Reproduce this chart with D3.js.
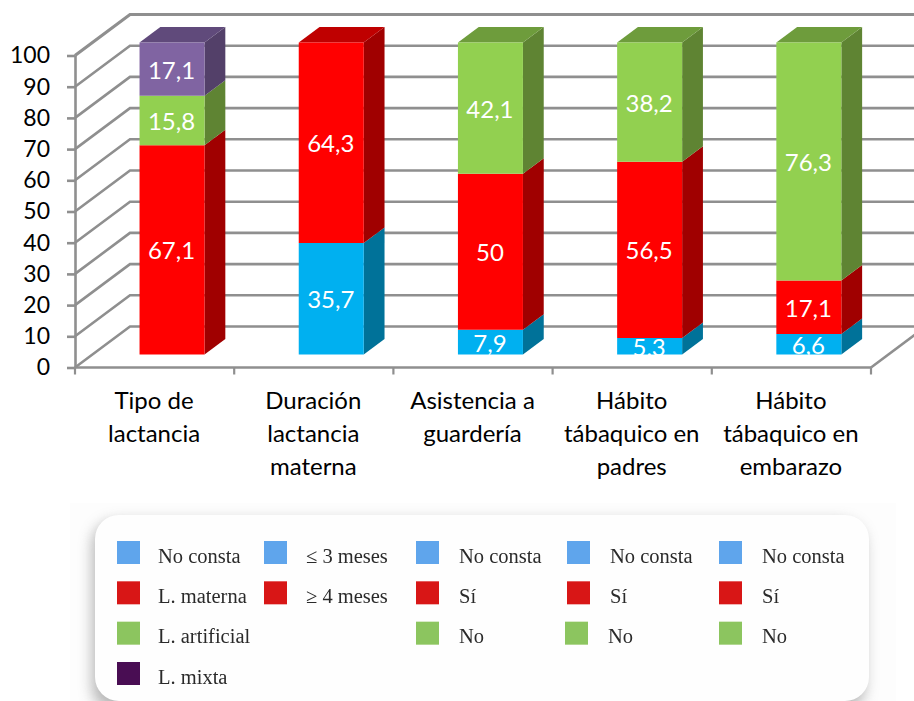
<!DOCTYPE html>
<html><head><meta charset="utf-8">
<script src="https://cdn.jsdelivr.net/npm/d3@7/dist/d3.min.js"></script>
<style>
html,body{margin:0;padding:0;background:#fff;overflow:hidden}
svg{display:block}
text{font-family:Lato,"Open Sans",sans-serif}
</style></head><body>
<svg id="c" width="914" height="701"></svg>
<script>
// ---- data ----
const categories = [
  ["Tipo de","lactancia"],
  ["Duración","lactancia","materna"],
  ["Asistencia a","guardería"],
  ["Hábito","tábaquico en","padres"],
  ["Hábito","tábaquico en","embarazo"]
];
const blueValues   = [0, 35.7, 7.9, 5.3, 6.6];
const redValues    = [67.1, 64.3, 50, 56.5, 17.1];
const greenValues  = [15.8, 0, 42.1, 38.2, 76.3];
const purpleValues = [17.1, 0, 0, 0, 0];
const yTicks = [0,10,20,30,40,50,60,70,80,90,100];
const legendColumns = [
  ["No consta","L. materna","L. artificial","L. mixta"],
  ["≤ 3 meses","≥ 4 meses"],
  ["No consta","Sí","No"],
  ["No consta","Sí","No"],
  ["No consta","Sí","No"]
];
const legendSwatches = ["#5fa5ec","#d81515","#8cc55e","#4a0a52"];

// ---- styling ----
const seriesKeys = ["blue","red","green","purple"];
const faces = {
  blue:  {front:"#00b0f0", side:"#007299", top:"#0086b6"},
  red:   {front:"#ff0000", side:"#a00000", top:"#bf0000"},
  green: {front:"#92d050", side:"#5f8433", top:"#6e9c3c"},
  purple:{front:"#8064a2", side:"#534069", top:"#604a7b"}
};
const grid = "#8f8f8f";
const svg = d3.select("#c");
const names = categories.map((_,i)=>i);

const wallDX = 55, wallDY = 41, x0 = 75, x1 = 871;
const y = d3.scaleLinear().domain([0,100]).range([367.5,55.5]);
const xBand = d3.scaleBand().domain(names).range([x0,x1]);
const barBand = d3.scaleBand().domain(names).range([x0,x1])
  .paddingInner(1-65/159.2).paddingOuter((1-65/159.2)/2);
const zNear = 13/41, zFar = 28.5/41;
const px = (x,z)=>x+wallDX*z, py = (v,z)=>y(v)-wallDY*z;
const pt = (x,v,z)=>[px(x,z),py(v,z)];
const line = d3.line();

// ---- walls ----
const wall = svg.append("g").attr("fill","none").attr("stroke",grid).attr("stroke-width",2.6);
wall.selectAll("path.h").data(yTicks).join("path").attr("class","h")
  .attr("d",v=>line([pt(x0,v,0),pt(x0,v,1),pt(x1,v,1)]))
  .attr("stroke-width",v=>v===100?3.2:2.6);
wall.append("path").attr("d",line([pt(x1,0,0),pt(x1,0,1)]));

// ---- axes ----
const axisY = svg.append("g").attr("transform",`translate(${x0},0)`)
  .call(d3.axisLeft(y).tickValues(yTicks).tickSize(8).tickPadding(17).tickSizeOuter(0));
axisY.selectAll("path,line").attr("stroke",grid).attr("stroke-width",2.6);
axisY.selectAll("text").attr("fill","#000").style("font-size","23px").style("font-family","Lato,sans-serif");

svg.append("path").attr("d",line([[x0,y(0)],[x1,y(0)]])).attr("stroke",grid).attr("stroke-width",2.6);
svg.selectAll("line.xt").data([...names,names.length]).join("line").attr("class","xt")
  .attr("x1",i=>x0+i*xBand.step()).attr("x2",i=>x0+i*xBand.step())
  .attr("y1",y(0)).attr("y2",y(0)+7).attr("stroke",grid).attr("stroke-width",2.2);

const catG = svg.selectAll("text.cat").data(categories).join("text").attr("class","cat")
  .attr("text-anchor","middle").attr("fill","#000").style("font-size","24px")
  .attr("transform",(d,i)=>`translate(${xBand(i)+xBand.bandwidth()/2-0.5},409)`);
catG.selectAll("tspan").data(d=>d).join("tspan")
  .attr("x",0).attr("y",(d,i)=>i*33).text(d=>d);

// ---- bars ----
const rows = names.map(i=>({blue:blueValues[i],red:redValues[i],green:greenValues[i],purple:purpleValues[i]}));
const stacked = d3.stack().keys(seriesKeys)(rows);
const bars = svg.append("g");
stacked.forEach(layer=>{
  const c = faces[layer.key];
  const g = bars.append("g");
  layer.forEach((s,i)=>{
    if(s[1]-s[0]<=0) return;
    const a = barBand(i), b = a+barBand.bandwidth();
    g.append("path").attr("fill",c.side)
      .attr("d",line([pt(b,s[0],zNear),pt(b,s[0],zFar),pt(b,s[1],zFar),pt(b,s[1],zNear)])+"Z");
    if(Math.abs(s[1]-100)<0.01)
      g.append("path").attr("fill",c.top)
       .attr("d",line([pt(a,s[1],zNear),pt(a,s[1],zFar),pt(b,s[1],zFar),pt(b,s[1],zNear)])+"Z");
    g.append("path").attr("fill",c.front)
      .attr("d",line([pt(a,s[0],zNear),pt(b,s[0],zNear),pt(b,s[1],zNear),pt(a,s[1],zNear)])+"Z");
  });
});
// value labels
stacked.forEach(layer=>{
  layer.forEach((s,i)=>{
    const v = s[1]-s[0];
    if(v<=0) return;
    const a = barBand(i), b = a+barBand.bandwidth();
    svg.append("text").attr("text-anchor","middle").attr("dominant-baseline","central")
      .attr("x",px((a+b)/2,zNear)-0.5).attr("y",py((s[0]+s[1])/2,zNear))
      .attr("fill","#fff").style("font-size","24px")
      .text(String(+v.toFixed(1)).replace(".",","));
  });
});

// ---- legend ----
const defs = svg.append("defs");
const f = defs.append("filter").attr("id","sh").attr("x","-10%").attr("y","-20%").attr("width","120%").attr("height","140%");
f.append("feGaussianBlur").attr("stdDeviation",7);
const f2 = defs.append("filter").attr("id","soft").attr("x","-5%").attr("y","-5%").attr("width","110%").attr("height","110%");
f2.append("feGaussianBlur").attr("stdDeviation",0.55);
svg.append("rect").attr("x",70).attr("y",503).attr("width",826).attr("height",198).attr("fill","#fdfdfd");
svg.append("rect").attr("x",92).attr("y",521).attr("width",773).attr("height",190).attr("rx",24)
  .attr("fill","#9a9a9a").attr("filter","url(#sh)").attr("opacity",.7);
svg.append("rect").attr("x",95).attr("y",515).attr("width",774).attr("height",186).attr("rx",24).attr("fill","#fefefe");

const colSwatch = d3.scalePoint().domain(d3.range(5)).range([117,719]);
const colNudge = [0,-3.5,-2,-1.5,0];
const textGap  = [41,42,43,43,43];
const rowY = d3.scalePoint().domain(d3.range(4)).range([541,662]);
const lg = svg.append("g").attr("filter","url(#soft)");
legendColumns.forEach((col,ci)=>{
  col.forEach((label,ri)=>{
    const sx = colSwatch(ci)+colNudge[ci]-(ci===3&&ri===2?2:0);
    lg.append("rect").attr("x",sx)
      .attr("y",rowY(ri)).attr("width",23).attr("height",23).attr("fill",legendSwatches[ri]);
    lg.append("text").attr("x",sx+textGap[ci])
      .attr("y",rowY(ri)+21.5).attr("fill","#2b2b2b")
      .style("font-family","'Liberation Serif',serif").style("font-size","20.5px").text(label);
  });
});
</script>
</body></html>
